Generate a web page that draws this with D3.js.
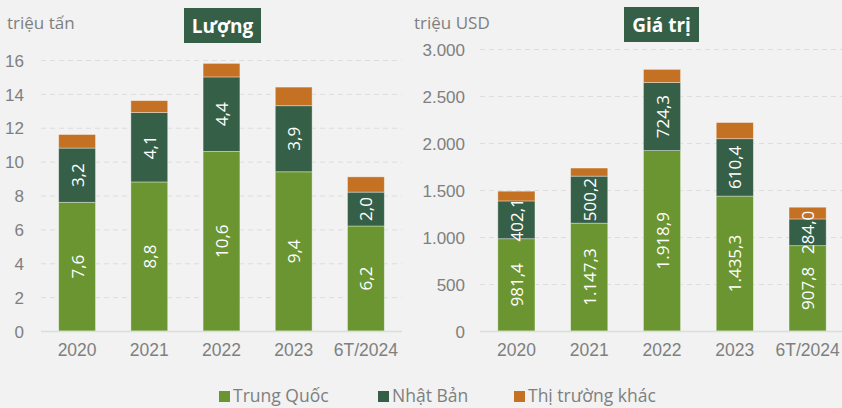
<!DOCTYPE html>
<html>
<head>
<meta charset="utf-8">
<script src="https://cdn.jsdelivr.net/npm/d3@7"></script>
<style>
  body { margin: 0; background: #f1f2f1; }
  svg { display: block; font-family: "Open Sans", sans-serif; }
  .tick text { fill: #7f7f7f; }
</style>
</head>
<body>
<div id="chart"></div>
<script>
const years = ["2020", "2021", "2022", "2023", "6T/2024"];
const seriesNames = ["Trung Quốc", "Nhật Bản", "Thị trường khác"];

// Lượng (triệu tấn)
const volChina = [7.6, 8.8, 10.6, 9.4, 6.2];
const volJapan = [3.2, 4.1, 4.4, 3.9, 2.0];
const volOther = [0.8, 0.7, 0.8, 1.1, 0.9];

// Giá trị (triệu USD)
const valChina = [981.4, 1147.3, 1918.9, 1435.3, 907.8];
const valJapan = [402.1, 500.2, 724.3, 610.4, 284.0];
const valOther = [104, 86, 140, 172, 125];

const volTicks = [0, 2, 4, 6, 8, 10, 12, 14, 16];
const valTicks = [0, 500, 1000, 1500, 2000, 2500, 3000];

const colors = ["#6a9530", "#365f47", "#c47124"];

const width = 842, height = 408;

const vn = d3.formatLocale({ decimal: ",", thousands: ".", grouping: [3], currency: ["", ""] });
const fmtTick = vn.format(",");
const fmtLabel = vn.format(",.1f");

const svg = d3
  .select("#chart")
  .append("svg")
  .attr("width", width)
  .attr("height", height);

function drawPanel(opts) {
  const { china, japan, other, ticks, max, left, right, top, bottom, unit, unitX, title, titleBox, tickRight } = opts;

  const rows = years.map((y, i) => ({ year: y, c: china[i], j: japan[i], o: other[i] }));
  const stack = d3.stack().keys(["c", "j", "o"])(rows);

  const x = d3.scaleBand().domain(years).range([left, right]).paddingInner(0.49).paddingOuter(0.245);
  const y = d3.scaleLinear().domain([0, max]).range([bottom, top]);

  const g = svg.append("g");

  // gridlines + y labels
  const yAxis = g
    .append("g")
    .attr("transform", `translate(${left},0)`)
    .call(d3.axisLeft(y).tickValues(ticks).tickSize(-(opts.gridEnd - left)).tickFormat(fmtTick).tickPadding(left - tickRight));
  yAxis.select(".domain").remove();
  yAxis.selectAll(".tick line")
    .attr("stroke", "#dcdddc")
    .attr("stroke-dasharray", "5,4")
    .attr("stroke-width", 1);
  yAxis.selectAll(".tick text").attr("font-size", 17).attr("dy", "0.36em");

  // bars
  stack.forEach((layer, k) => {
    g.append("g")
      .selectAll("rect")
      .data(layer)
      .join("rect")
      .attr("x", (d) => x(d.data.year))
      .attr("width", x.bandwidth())
      .attr("y", (d) => y(d[1]))
      .attr("height", (d) => y(d[0]) - y(d[1]))
      .attr("fill", colors[k])
      .attr("stroke", "rgba(255,255,255,0.45)")
      .attr("stroke-width", 0.8);
  });

  // value labels on top of all bars (only first two series)
  stack.slice(0, 2).forEach((layer) => {
    g.append("g")
      .selectAll("text")
      .data(layer)
      .join("text")
      .attr("transform", (d) => {
        const cx = x(d.data.year) + x.bandwidth() / 2;
        const cy = (y(d[0]) + y(d[1])) / 2;
        return `translate(${cx},${cy}) rotate(-90)`;
      })
      .attr("text-anchor", "middle")
      .attr("dominant-baseline", "central")
      .attr("fill", "#ffffff")
      .attr("font-size", 17)
      .text((d) => fmtLabel(d[1] - d[0]));
  });

  // x axis
  const xAxis = g
    .append("g")
    .attr("transform", `translate(0,${bottom})`)
    .call(d3.axisBottom(x).tickSize(0).tickPadding(13));
  xAxis.select(".domain").attr("stroke", "#dcdddc").attr("stroke-width", 1.5)
    .attr("d", `M${left},0.5H${opts.gridEnd}`);
  xAxis.selectAll(".tick text").attr("font-size", 17.5);

  // unit label
  g.append("text")
    .attr("x", unitX)
    .attr("y", 29)
    .attr("fill", "#7f7f7f")
    .attr("font-size", 17)
    .text(unit);

  // title box
  g.append("rect")
    .attr("x", titleBox[0])
    .attr("y", titleBox[1])
    .attr("width", titleBox[2])
    .attr("height", titleBox[3])
    .attr("fill", "#365f47");
  g.append("text")
    .attr("x", titleBox[0] + titleBox[2] / 2)
    .attr("y", titleBox[1] + titleBox[3] / 2)
    .attr("text-anchor", "middle")
    .attr("dominant-baseline", "central")
    .attr("fill", "#ffffff")
    .attr("font-size", 19)
    .attr("font-weight", "bold")
    .text(title);
}

drawPanel({
  china: volChina, japan: volJapan, other: volOther,
  ticks: volTicks, max: 16,
  left: 41, right: 402, gridEnd: 402, top: 60, bottom: 331,
  tickRight: 24, unit: "triệu tấn", unitX: 7,
  title: "Lượng", titleBox: [184, 8, 77, 35]
});

drawPanel({
  china: valChina, japan: valJapan, other: valOther,
  ticks: valTicks, max: 3000,
  left: 480, right: 844, gridEnd: 842, top: 49, bottom: 331,
  tickRight: 465, unit: "triệu USD", unitX: 414,
  title: "Giá trị", titleBox: [624, 7, 75, 35]
});

// legend
const legendX = [219, 378, 514];
const legend = svg.append("g");
seriesNames.forEach((name, i) => {
  legend.append("rect")
    .attr("x", legendX[i])
    .attr("y", 391)
    .attr("width", 11)
    .attr("height", 11)
    .attr("fill", colors[i]);
  legend.append("text")
    .attr("x", legendX[i] + 14)
    .attr("y", 402)
    .attr("fill", "#7f7f7f")
    .attr("font-size", 17.5)
    .text(name);
});
</script>
</body>
</html>
